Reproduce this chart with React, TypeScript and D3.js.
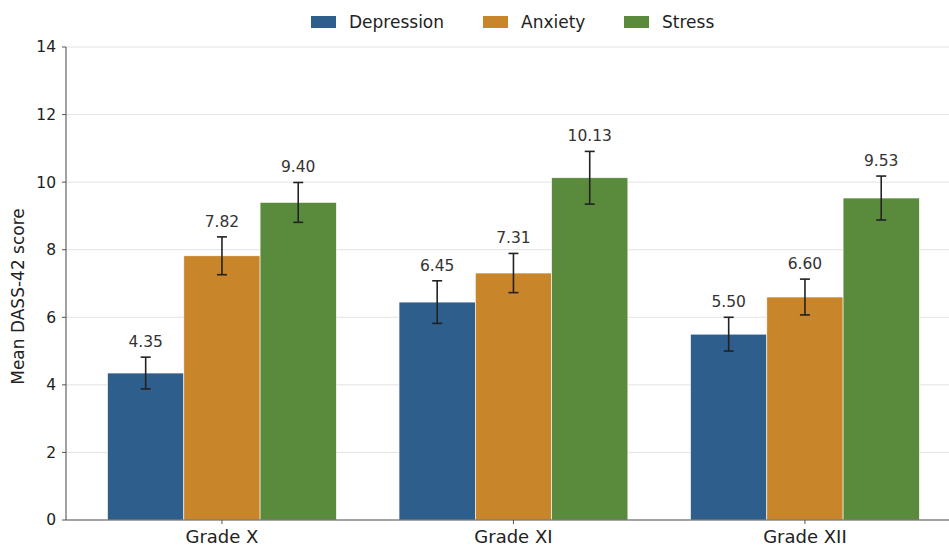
import React from "react";
import * as d3 from "d3";

const categories = ["Grade X", "Grade XI", "Grade XII"];
const seriesNames = ["Depression", "Anxiety", "Stress"];
const depression = [4.35, 6.45, 5.5];
const anxiety = [7.82, 7.31, 6.6];
const stress = [9.4, 10.13, 9.53];
const depressionErr = [0.47, 0.63, 0.5];
const anxietyErr = [0.56, 0.58, 0.53];
const stressErr = [0.59, 0.78, 0.65];
const yTicks = [0, 2, 4, 6, 8, 10, 12, 14];
const colors = ["#2E5E8C", "#C8852A", "#5A8A3C"];

export default function App() {
  const W = 949, H = 546;
  const left = 66, bottom = 520, top = 47;
  const values = [depression, anxiety, stress];
  const errs = [depressionErr, anxietyErr, stressErr];

  const unit = 291.5;
  const x = d3.scaleLinear().domain([-0.535, 2.5]).range([left, left + unit * 3.035]);
  const y = d3.scaleLinear().domain([0, 14]).range([bottom, top]);
  const groupW = 0.785;
  const barW = groupW / 3;
  const font = "DejaVu Sans, sans-serif";

  return (
    <svg width={W} height={H} style={{ position: "absolute", left: 0, top: 0, background: "#fff" }} fontFamily={font}>
      <rect x={0} y={0} width={W} height={H} fill="#fff" />
      {yTicks.map((t) => (
        <line key={"g" + t} x1={left} x2={W} y1={y(t)} y2={y(t)} stroke="#e3e3e3" strokeWidth={1} />
      ))}
      {values.map((vals, s) =>
        vals.map((v, i) => {
          const x0 = x(i - groupW / 2 + s * barW);
          const x1 = x(i - groupW / 2 + (s + 1) * barW);
          return (
            <rect key={`b${s}-${i}`} x={x0} y={y(v)} width={x1 - x0} height={y(0) - y(v)}
              fill={colors[s]} stroke="#fff" strokeWidth={0.6} />
          );
        })
      )}
      {values.map((vals, s) =>
        vals.map((v, i) => {
          const cx = x(i - groupW / 2 + (s + 0.5) * barW);
          const e = errs[s][i];
          return (
            <g key={`e${s}-${i}`} stroke="#222" strokeWidth={1.6}>
              <line x1={cx} x2={cx} y1={y(v + e)} y2={y(v - e)} />
              <line x1={cx - 5} x2={cx + 5} y1={y(v + e)} y2={y(v + e)} />
              <line x1={cx - 5} x2={cx + 5} y1={y(v - e)} y2={y(v - e)} />
            </g>
          );
        })
      )}
      {values.map((vals, s) =>
        vals.map((v, i) => {
          const cx = x(i - groupW / 2 + (s + 0.5) * barW);
          const e = errs[s][i];
          return (
            <text key={`t${s}-${i}`} x={cx} y={y(v + e) - 10} textAnchor="middle" fontSize={15.5} fill="#333">
              {v.toFixed(2)}
            </text>
          );
        })
      )}
      <line x1={left} x2={left} y1={top} y2={bottom} stroke="#555" strokeWidth={1.1} />
      <line x1={left} x2={W} y1={bottom} y2={bottom} stroke="#555" strokeWidth={1.1} />
      {yTicks.map((t) => (
        <g key={"yt" + t}>
          <line x1={left - 4} x2={left} y1={y(t)} y2={y(t)} stroke="#555" strokeWidth={1} />
          <text x={left - 10} y={y(t)} dy="0.35em" textAnchor="end" fontSize={15.5} fill="#222">{t}</text>
        </g>
      ))}
      {categories.map((c, i) => (
        <g key={"xt" + c}>
          <line x1={x(i)} x2={x(i)} y1={bottom} y2={bottom + 4} stroke="#555" strokeWidth={1} />
          <text x={x(i)} y={543} textAnchor="middle" fontSize={18} fill="#222">{c}</text>
        </g>
      ))}
      <text transform={`translate(24,${(top + bottom) / 2 + 13}) rotate(-90)`} textAnchor="middle" fontSize={17} fill="#222">
        Mean DASS-42 score
      </text>
      {seriesNames.map((n, s) => {
        const lx = [311, 483, 624][s];
        return (
          <g key={"l" + n}>
            <rect x={lx} y={16} width={25} height={12} fill={colors[s]} />
            <text x={lx + 38} y={22} dy="0.35em" fontSize={17} fill="#222">{n}</text>
          </g>
        );
      })}
    </svg>
  );
}
